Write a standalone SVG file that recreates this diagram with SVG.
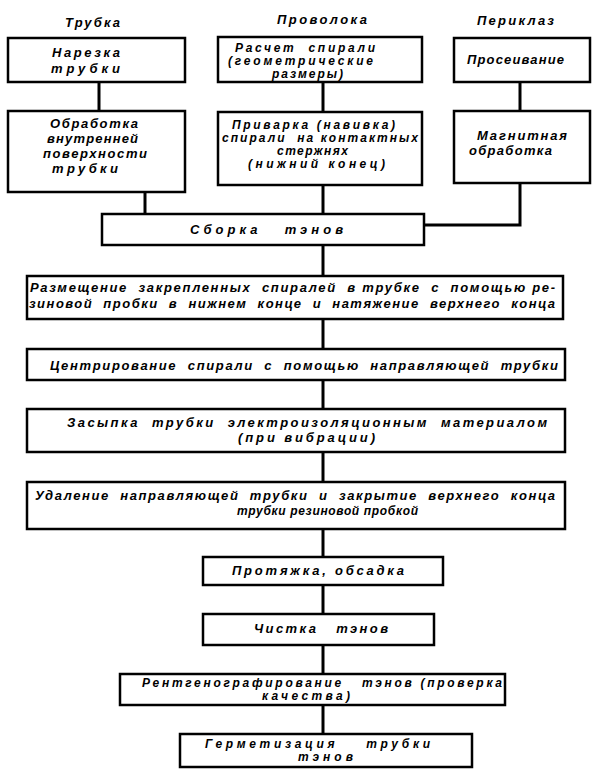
<svg xmlns="http://www.w3.org/2000/svg" width="597" height="772" viewBox="0 0 597 772">
<style>
.bg{fill:#fff}
.box{fill:#fff;stroke:#000;stroke-width:2.5}
.con{fill:none;stroke:#000;stroke-width:3}
text{font-family:"Liberation Sans","DejaVu Sans",sans-serif;font-weight:bold;font-style:italic;font-size:13px;fill:#000;white-space:pre}
.h{font-size:13px}
.s{font-size:12px}
</style>
<rect class="bg" x="0" y="0" width="597" height="772"/>
<g id="connectors">
<line class="con" x1="99" y1="82" x2="99" y2="111"/>
<line class="con" x1="145" y1="192" x2="145" y2="214"/>
<line class="con" x1="323" y1="82" x2="323" y2="112"/>
<line class="con" x1="323" y1="185" x2="323" y2="214"/>
<line class="con" x1="520" y1="82" x2="520" y2="111"/>
<polyline class="con" points="520,183 520,225 424,225"/>
<line class="con" x1="323" y1="245" x2="323" y2="276"/>
<line class="con" x1="323" y1="319" x2="323" y2="349"/>
<line class="con" x1="323" y1="380" x2="323" y2="409"/>
<line class="con" x1="323" y1="452" x2="323" y2="482"/>
<line class="con" x1="323" y1="529" x2="323" y2="557"/>
<line class="con" x1="323" y1="585" x2="323" y2="614"/>
<line class="con" x1="323" y1="645" x2="323" y2="674"/>
<line class="con" x1="323" y1="705" x2="323" y2="734"/>
</g>
<g id="headers">
<text class="h" x="65" y="27" textLength="55">Трубка</text>
<text class="h" x="277" y="24" textLength="90">Проволока</text>
<text class="h" x="477" y="25" textLength="77">Периклаз</text>
</g>
<g id="n1"><rect class="box" x="8" y="38" width="177" height="44"/>
<text x="52" y="57" textLength="68">Нарезка</text>
<text x="51" y="73" textLength="69">трубки</text></g>
<g id="n2"><rect class="box" x="8" y="111" width="177" height="81"/>
<text x="50" y="128" textLength="88">Обработка</text>
<text x="47" y="143" textLength="91">внутренней</text>
<text x="43" y="158" textLength="104">поверхности</text>
<text x="52" y="173" textLength="66">трубки</text></g>
<g id="n3"><rect class="box" x="218" y="37" width="204" height="45"/>
<text class="s" x="235" y="52" textLength="140">Расчет  спирали</text>
<text class="s" x="228" y="65" textLength="145">(геометрические</text>
<text class="s" x="272" y="78" textLength="71">размеры)</text></g>
<g id="n4"><rect class="box" x="218" y="112" width="204" height="73"/>
<text class="s" x="232" y="129" textLength="163">Приварка (навивка)</text>
<text class="s" x="222" y="142" textLength="196">спирали  на контактных</text>
<text class="s" x="277" y="155" textLength="71">стержнях</text>
<text class="s" x="248" y="168" textLength="137">(нижний конец)</text></g>
<g id="n5"><rect class="box" x="454" y="38" width="136" height="44"/>
<text x="467" y="64" textLength="97">Просеивание</text></g>
<g id="n6"><rect class="box" x="454" y="111" width="136" height="72"/>
<text x="477" y="140" textLength="90">Магнитная</text>
<text x="469" y="155" textLength="83">обработка</text></g>
<g id="n7"><rect class="box" x="102" y="214" width="322" height="31"/>
<text x="190" y="234" textLength="153">Сборка   тэнов</text></g>
<g id="n8"><rect class="box" x="27" y="276" width="536" height="43"/>
<text x="30" y="292" textLength="525">Размещение  закрепленных  спиралей  в трубке  с  помощью ре-</text>
<text x="29" y="308" textLength="526">зиновой  пробки  в  нижнем  конце  и  натяжение  верхнего  конца</text></g>
<g id="n9"><rect class="box" x="27" y="349" width="538" height="31"/>
<text x="50" y="370" textLength="508">Центрирование  спирали  с  помощью  направляющей  трубки</text></g>
<g id="n10"><rect class="box" x="27" y="409" width="538" height="43"/>
<text x="67" y="427" textLength="480">Засыпка  трубки  электроизоляционным  материалом</text>
<text x="238" y="442" textLength="137">(при вибрации)</text></g>
<g id="n11"><rect class="box" x="27" y="482" width="538" height="47"/>
<text x="35" y="500" textLength="520">Удаление  направляющей  трубки  и  закрытие  верхнего  конца</text>
<text class="s" x="237" y="515" textLength="181">трубки резиновой пробкой</text></g>
<g id="n12"><rect class="box" x="203" y="557" width="240" height="28"/>
<text x="232" y="575" textLength="172">Протяжка, обсадка</text></g>
<g id="n13"><rect class="box" x="203" y="614" width="231" height="31"/>
<text x="254" y="633" textLength="134">Чистка   тэнов</text></g>
<g id="n14"><rect class="box" x="120" y="674" width="385" height="31"/>
<text class="s" x="142" y="687" textLength="360">Рентгенографирование   тэнов (проверка</text>
<text class="s" x="262" y="700" textLength="88">качества)</text></g>
<g id="n15"><rect class="box" x="180" y="734" width="292" height="33"/>
<text class="s" x="205" y="748" textLength="225">Герметизация    трубки</text>
<text class="s" x="298" y="761" textLength="55">тэнов</text></g>
</svg>
